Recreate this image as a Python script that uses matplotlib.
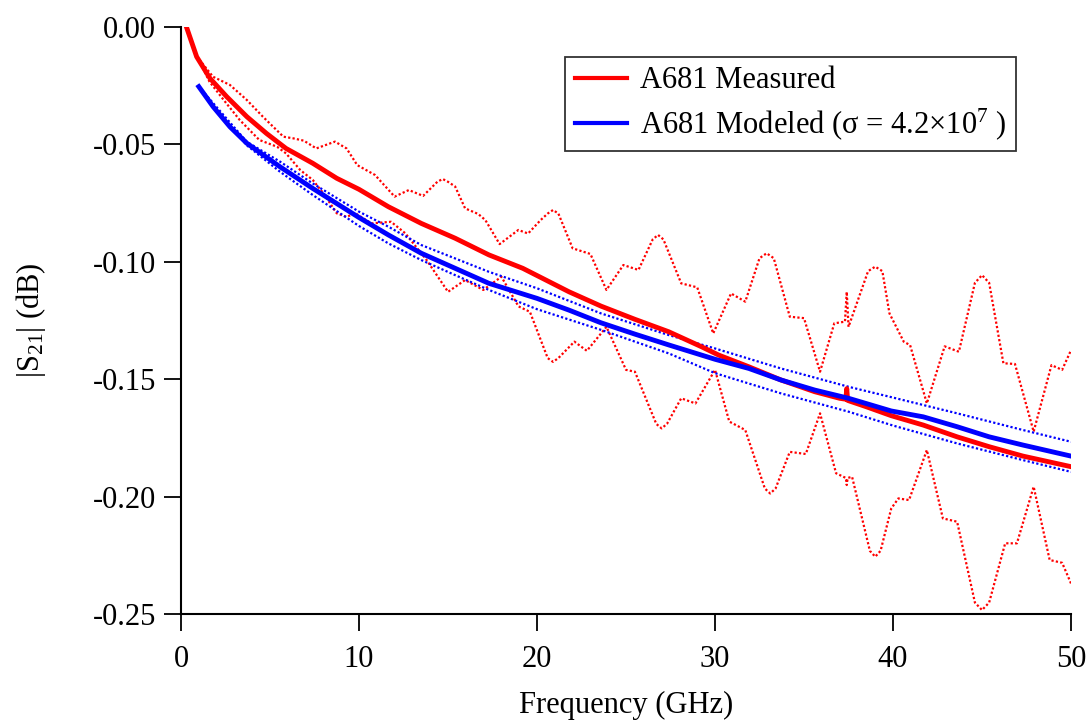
import matplotlib
matplotlib.use('Agg')
import matplotlib.pyplot as plt
import numpy as np

plt.rcParams['font.family'] = ['Liberation Serif', 'DejaVu Serif']
plt.rcParams['mathtext.fontset'] = 'custom'
plt.rcParams['mathtext.rm'] = 'Liberation Serif'
plt.rcParams['mathtext.it'] = 'Liberation Serif:italic'
plt.rcParams['axes.unicode_minus'] = False

# measured |S21| (solid red)
meas_f = [0.3, 0.88, 1.63, 2.57, 3.7, 4.8, 5.9, 7.4, 8.75, 10.0, 11.65, 13.5, 15.4, 17.3,
          19.2, 21.8, 23.6, 25.5, 27.4, 29.25, 30.2, 31.9, 33.7, 35.6, 37.0, 37.35, 37.4,
          37.45, 38.5, 39.9, 41.7, 43.6, 45.4, 47.3, 50.0]
meas_db = [0.0, -0.0128, -0.022, -0.0298, -0.0383, -0.0454, -0.0518, -0.0581, -0.0645,
           -0.0692, -0.0766, -0.0837, -0.090, -0.0971, -0.1028, -0.1128, -0.1189, -0.1245,
           -0.1298, -0.1362, -0.1397, -0.1447, -0.1503, -0.1553, -0.1581, -0.1585, -0.154,
           -0.159, -0.1617, -0.1655, -0.1695, -0.1745, -0.1787, -0.1827, -0.1872]

# measured upper bound (dotted red)
meas_hi_f = [0.3, 0.9, 1.8, 2.75, 3.7, 4.6, 5.75, 6.3, 6.9, 7.6, 8.65, 9.3, 9.9, 10.9, 12.0,
             12.8, 13.6, 14.4, 14.7, 15.0, 15.4, 15.96, 16.7, 17.1, 17.9, 18.95, 19.5, 20.2,
             20.6, 20.9, 21.2, 22.0, 23.0, 23.9, 24.85, 25.7, 26.5, 26.8, 27.1, 28.1, 29.0,
             29.9, 30.9, 31.7, 32.5, 32.9, 33.3, 34.2, 35.0, 35.9, 36.7, 37.3, 37.4, 37.5,
             38.6, 39.0, 39.4, 39.8, 40.6, 40.96, 41.9, 42.9, 43.7, 44.6, 45.0, 45.4, 46.2,
             46.85, 47.9, 48.9, 49.5, 50.0]
meas_hi_db = [0.0, -0.0128, -0.0213, -0.0248, -0.0312, -0.0383, -0.0468, -0.0475, -0.0485,
              -0.0518, -0.0489, -0.0518, -0.0589, -0.0631, -0.0723, -0.0695, -0.072, -0.066,
              -0.0648, -0.066, -0.068, -0.0773, -0.0797, -0.0823, -0.0925, -0.0865, -0.088,
              -0.0823, -0.0795, -0.078, -0.0795, -0.0943, -0.0967, -0.112, -0.1014, -0.1035,
              -0.0905, -0.0886, -0.0905, -0.1092, -0.1109, -0.1305, -0.1135, -0.117, -0.0985,
              -0.0964, -0.0985, -0.1234, -0.124, -0.1468, -0.1262, -0.1255, -0.1128, -0.1277,
              -0.104, -0.1021, -0.104, -0.122, -0.134, -0.1355, -0.1603, -0.136, -0.1383,
              -0.109, -0.1057, -0.109, -0.1432, -0.1435, -0.1723, -0.144, -0.146, -0.1376]

# measured lower bound (dotted red)
meas_lo_f = [0.3, 0.9, 1.6, 2.4, 3.3, 4.4, 5.4, 5.9, 6.7, 7.4, 8.0, 8.75, 9.3, 9.8, 10.7,
             11.8, 12.6, 13.8, 15.0, 15.96, 16.98, 18.0, 18.96, 19.6, 20.6, 20.9, 21.2, 22.1,
             22.8, 23.9, 25.0, 25.5, 26.7, 27.0, 27.3, 28.1, 28.9, 30.0, 30.8, 31.7, 32.8,
             33.1, 33.4, 34.2, 35.1, 35.9, 36.8, 37.35, 37.4, 37.45, 37.7, 38.7, 39.0, 39.3,
             39.9, 40.3, 40.9, 41.9, 42.8, 43.6, 44.6, 45.0, 45.4, 46.3, 46.96, 47.9, 48.8,
             49.5, 50.0]
meas_lo_db = [0.0, -0.0128, -0.0234, -0.0312, -0.0397, -0.0482, -0.0511, -0.0539, -0.061,
              -0.0652, -0.0709, -0.0794, -0.0809, -0.0794, -0.0837, -0.083, -0.0879, -0.0993,
              -0.1128, -0.1078, -0.112, -0.1064, -0.119, -0.1213, -0.141, -0.1426, -0.141,
              -0.134, -0.1379, -0.1277, -0.146, -0.1468, -0.169, -0.1709, -0.169, -0.1581,
              -0.1603, -0.146, -0.168, -0.1716, -0.1965, -0.1986, -0.1965, -0.1809, -0.1818,
              -0.1645, -0.19, -0.192, -0.195, -0.192, -0.1915, -0.223, -0.2255, -0.223,
              -0.205, -0.2007, -0.2014, -0.1801, -0.2092, -0.2106, -0.245, -0.2482, -0.245,
              -0.2198, -0.2198, -0.1957, -0.2269, -0.2281, -0.2369]

# modeled |S21| (solid blue)
model_f = [1.0, 1.8, 2.75, 3.7, 5.56, 7.4, 10.0, 11.65, 13.5, 15.4, 17.3, 20.0, 21.8, 23.6,
           25.5, 27.4, 30.0, 31.9, 33.7, 35.6, 37.5, 39.9, 41.7, 43.6, 45.4, 47.3, 50.0]
model_db = [-0.0255, -0.034, -0.0426, -0.0496, -0.0596, -0.0688, -0.0812, -0.0886, -0.0964,
            -0.1028, -0.1092, -0.1156, -0.1206, -0.126, -0.1308, -0.1354, -0.1415, -0.1454,
            -0.1503, -0.1546, -0.1581, -0.1635, -0.166, -0.1702, -0.1745, -0.178, -0.1827]

# modeled bounds (dotted blue)
bound_f = [1.0, 3.7, 5.56, 7.4, 10.0, 11.65, 13.5, 15.4, 17.3, 20.0, 23.6, 27.4, 30.0, 33.7,
           37.5, 40.0, 43.6, 47.3, 50.0]
model_hi_db = [-0.0255, -0.049, -0.0574, -0.0667, -0.0787, -0.0851, -0.0929, -0.0986, -0.1043,
               -0.1113, -0.122, -0.1312, -0.1369, -0.1454, -0.1532, -0.1578, -0.1645, -0.1716,
               -0.1766]
model_lo_db = [-0.0258, -0.0505, -0.0617, -0.0716, -0.0848, -0.0922, -0.0993, -0.1057, -0.112,
               -0.1202, -0.129, -0.139, -0.1474, -0.156, -0.1638, -0.1697, -0.1773, -0.1844,
               -0.1894]

y_ticks = [0.0, -0.05, -0.10, -0.15, -0.20, -0.25]
x_ticks = [0, 10, 20, 30, 40, 50]

fig = plt.figure(figsize=(10.91, 7.25), dpi=100)
ax = fig.add_axes([0.1659, 0.1527, 0.8158, 0.8105])

dots = (0, (1, 1))
ax.plot(meas_hi_f, meas_hi_db, color='red', ls=dots, lw=1.6)
ax.plot(meas_lo_f, meas_lo_db, color='red', ls=dots, lw=1.6)
ax.plot(bound_f, model_hi_db, color='blue', ls=dots, lw=1.6)
ax.plot(bound_f, model_lo_db, color='blue', ls=dots, lw=1.6)
ax.plot(meas_f, meas_db, color='red', lw=3.5, label='A681 Measured')
ax.plot(model_f, model_db, color='blue', lw=3.5,
        label=r'A681 Modeled ($\mathrm{\sigma}$ = 4.2$\times$10$^{7}$ )')

ax.set_xlim(0, 50)
ax.set_ylim(-0.25, 0.0)
ax.set_xticks(x_ticks)
ax.set_yticks(y_ticks)
ax.set_yticklabels(['%.2f' % v for v in y_ticks])
ax.spines['top'].set_visible(False)
ax.spines['right'].set_visible(False)
ax.spines['left'].set_linewidth(1.5)
ax.spines['bottom'].set_linewidth(1.5)
ax.tick_params(axis='both', direction='out', length=12, width=1.3, labelsize=22)
ax.tick_params(axis='x', pad=10)
ax.tick_params(axis='y', pad=6)

ax.set_xlabel('Frequency (GHz)', fontsize=22, labelpad=12)
ax.set_ylabel(r'|S$_{21}$| (dB)', fontsize=22, labelpad=32)

leg = ax.legend(loc='upper right', bbox_to_anchor=(0.938, 0.948), borderaxespad=0,
                fontsize=22, frameon=True, fancybox=False, handlelength=1.7,
                handletextpad=0.45, labelspacing=0.36, borderpad=0.3)
leg.get_frame().set_edgecolor('black')
leg.get_frame().set_linewidth(1.3)
for ln in leg.get_lines():
    ln.set_linewidth(3)

fig.savefig('out.png', dpi=100)
